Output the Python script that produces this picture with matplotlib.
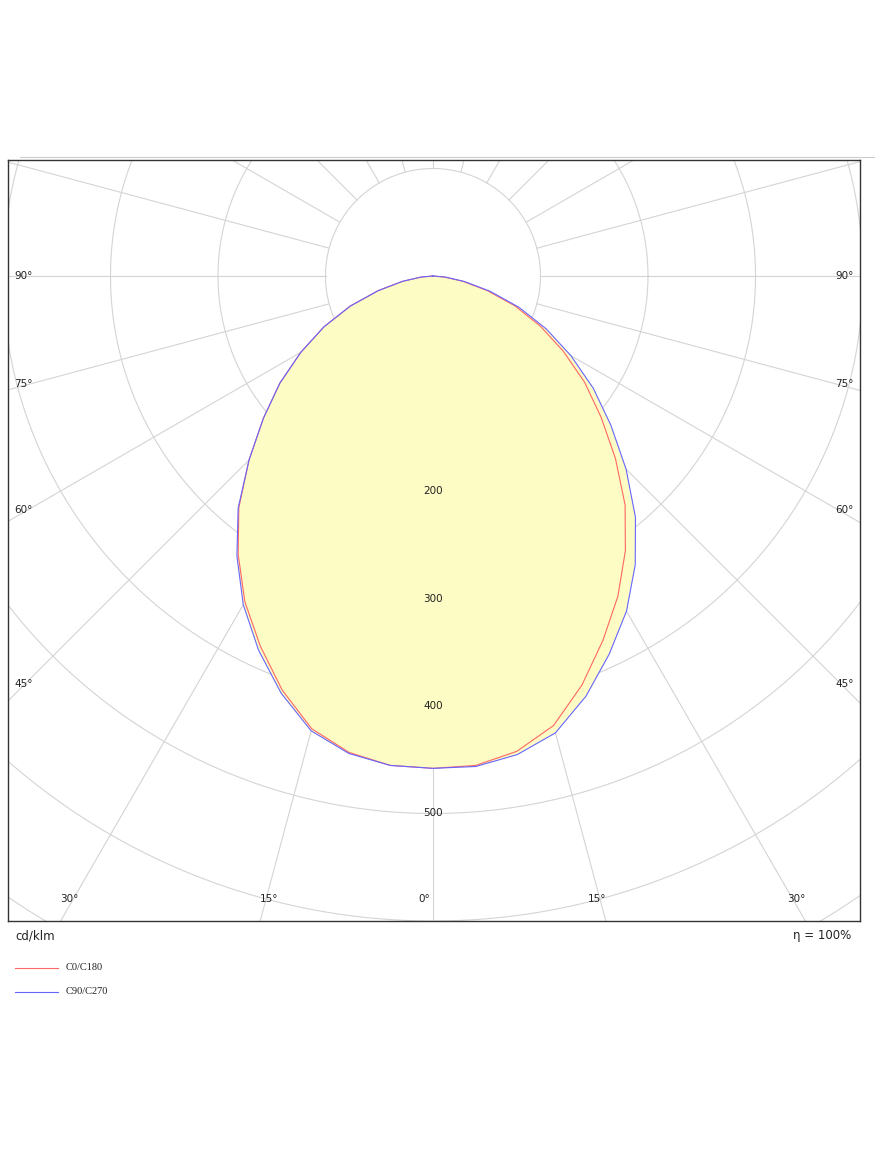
import numpy as np
import matplotlib
matplotlib.use("Agg")
import matplotlib.pyplot as plt

# Data (cd/klm vs gamma angle in degrees, 0 = downward)
gamma = [0, 5, 10, 15, 20, 25, 30, 35, 40, 45, 50, 55, 60, 65, 70, 75, 80, 85, 90]
c0_left = [458, 457, 450, 436, 410, 380, 350, 316, 281, 242, 206, 174, 142, 112, 82, 53, 29, 11, 0]
c0_right = [458, 457, 449, 433, 405, 374, 344, 312, 278, 240, 204, 172, 140, 110, 81, 52, 28, 10, 0]
c90_left = [458, 457, 451, 438, 413, 384, 353, 318, 282, 242, 206, 174, 142, 112, 82, 53, 29, 11, 0]
c90_right = [458, 458, 452, 440, 416, 388, 360, 328, 293, 254, 216, 182, 148, 116, 85, 55, 30, 12, 0]
rings = [100, 200, 300, 400, 500, 600, 700, 800, 900, 1000]
ring_labels = [200, 300, 400, 500]
angle_labels = [0, 15, 30, 45, 60, 75, 90]

fig = plt.figure(figsize=(8.75, 11.66), dpi=100)
W, H = 875, 1166
ax = fig.add_axes([8 / W, (H - 921) / H, 852 / W, 761 / H])
s = 1.075
ax.set_xlim(-425 / s, 427 / s)
ax.set_ylim(-645 / s, 116 / s)
ax.set_xticks([]); ax.set_yticks([])
for sp in ax.spines.values():
    sp.set_color("#333333"); sp.set_linewidth(1.0)

gc = "#d4d4d4"
t = np.linspace(0, 2 * np.pi, 720)
for r in rings:
    ax.plot(r * np.cos(t), r * np.sin(t), color=gc, lw=0.8, zorder=1)
for a in range(0, 360, 15):
    ar = np.radians(a)
    ax.plot([100 * np.sin(ar), 1000 * np.sin(ar)], [-100 * np.cos(ar), -1000 * np.cos(ar)],
            color=gc, lw=0.8, zorder=1)

def curve(left, right):
    g = np.radians(np.array(gamma))
    L = np.array(left); R = np.array(right)
    xl = -L * np.sin(g); yl = -L * np.cos(g)
    xr = R * np.sin(g); yr = -R * np.cos(g)
    x = np.concatenate([xl[::-1], xr[1:]])
    y = np.concatenate([yl[::-1], yr[1:]])
    return x, y

x0, y0 = curve(c0_left, c0_right)
x9, y9 = curve(c90_left, c90_right)
ax.fill(x9, y9, color="#fdfcc4", zorder=2, lw=0)
ax.plot(x0, y0, color="#ff6666", lw=0.8, zorder=3)
ax.plot(x9, y9, color="#6666ff", lw=0.8, zorder=3)

for r in ring_labels:
    ax.text(0, -r, str(r), ha="center", va="center", fontsize=7.5, color="#222222", zorder=4)

xl_edge = -425 / s; yb_edge = -645 / s
for a in angle_labels:
    if a >= 45:
        dy = 425 / s / np.tan(np.radians(a)) if a < 90 else 0
        yy = -dy + (90 - a) * 0.38 / s
        ax.text(xl_edge + 6, yy, f"{a}°", ha="left", va="center", fontsize=7.5, color="#222222")
        ax.text(427 / s - 6, yy, f"{a}°", ha="right", va="center", fontsize=7.5, color="#222222")
    else:
        dx = 645 / s * np.tan(np.radians(a))
        for sgn in ([1] if a == 0 else [-1, 1]):
            ax.text(sgn * (dx - 9 / s), yb_edge + 20, f"{a}°", ha="center", va="center",
                    fontsize=7.5, color="#222222")

fig.add_artist(plt.Line2D([20 / W, 1], [1 - 157 / H, 1 - 157 / H], color="#cccccc", lw=0.8))
fig.text(15 / W, 1 - 936 / H, "cd/klm", fontsize=8.5, va="center", ha="left", color="#222222")
fig.text(851 / W, 1 - 936 / H, "η = 100%", fontsize=8.5, va="center", ha="right", color="#222222")
for yy, lab, c in [(968, "C0/C180", "#ff6666"), (992, "C90/C270", "#6666ff")]:
    fig.add_artist(plt.Line2D([15 / W, 58 / W], [1 - yy / H, 1 - yy / H], color=c, lw=0.8))
    fig.text(66 / W, 1 - yy / H, lab, fontsize=7.5, va="center", ha="left", color="#222222",
             family="Liberation Serif")

fig.savefig("out.png", dpi=100)
